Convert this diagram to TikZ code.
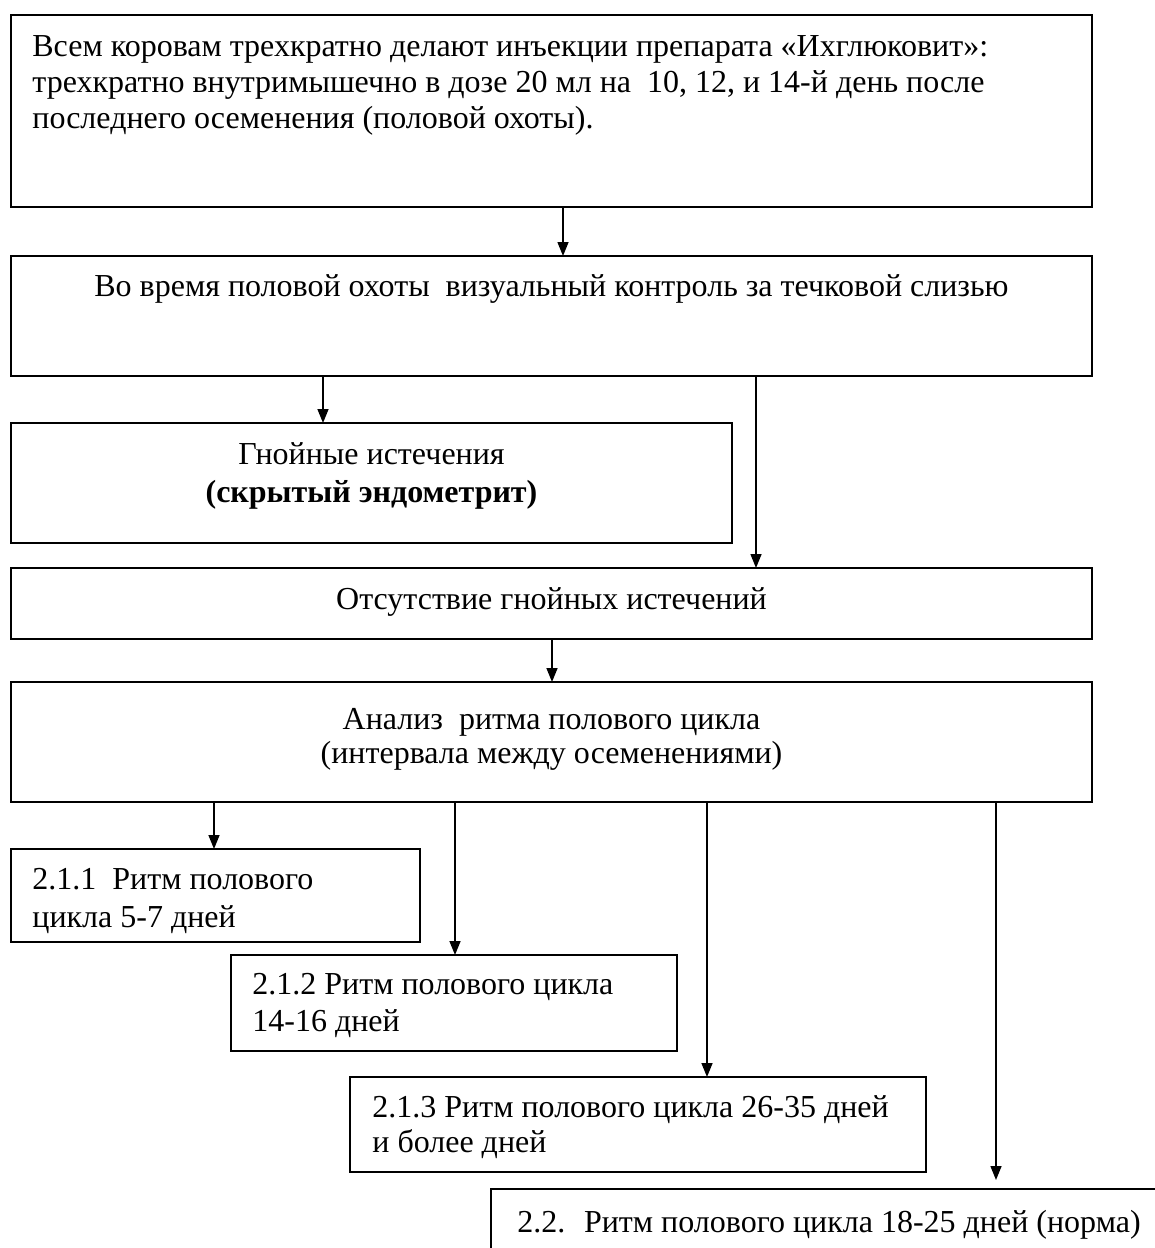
\documentclass[tikz,border=0pt]{standalone}
\usepackage{fontspec}
\setmainfont{Liberation Serif}
\usetikzlibrary{arrows.meta}

\tikzset{
  box/.style={draw, line width=0.85pt, anchor=north west, inner sep=0pt, outer sep=0pt},
  zeile/.style={inner sep=0pt, font=\fontsize{16}{19}\selectfont},
  pfeil/.style={line width=0.75pt, -{Triangle[length=7pt,width=5.5pt]}},
}

\begin{document}
\begin{tikzpicture}[x=0.5pt, y=-0.5pt]
  % Pixel der Vorlage
  \def\px{0.5pt}
  \useasboundingbox (0,0) rectangle (1155,1248);
  \clip (0,0) rectangle (1155,1248);

  % Kaesten: Name/links/oben/rechts/unten
  \foreach \n/\xa/\ya/\xb/\yb in {b1/11/15/1092/207, b2/11/256/1092/376,
      b3/11/423/732/543, b4/11/568/1092/639, b5/11/682/1092/802,
      b6/11/849/420/942, b7/231/955/677/1051, b8/350/1077/926/1172,
      b9/491/1189/1170/1275} {
    \node[box, minimum width={(\xb-\xa)*\px}, minimum height={(\yb-\ya)*\px}] (\n) at (\xa,\ya) {};
  }

  % Texte
  \node[zeile, anchor=base west] (t1a) at (32,56) {Всем коровам трехкратно делают инъекции препарата «Ихглюковит»:};
  \node[zeile, anchor=base west] (t1b) at (32,92) {трехкратно внутримышечно в дозе 20 мл на~ 10, 12, и 14-й день после};
  \node[zeile, anchor=base west] (t1c) at (32,128) {последнего осеменения (половой охоты).};
  \node[zeile, anchor=base] (t2) at (551.5,296) {Во время половой охоты~ визуальный контроль за течковой слизью};
  \node[zeile, anchor=base] (t3a) at (371.5,464) {Гнойные истечения};
  \node[zeile, anchor=base] (t3b) at (371.5,502) {\bfseries (скрытый эндометрит)};
  \node[zeile, anchor=base] (t4) at (551.5,609) {Отсутствие гнойных истечений};
  \node[zeile, anchor=base] (t5a) at (551.5,729) {Анализ~ ритма полового цикла};
  \node[zeile, anchor=base] (t5b) at (551.5,763) {(интервала между осеменениями)};
  \node[zeile, anchor=base west] (t6a) at (32,889) {2.1.1~ Ритм полового};
  \node[zeile, anchor=base west] (t6b) at (32,927) {цикла 5-7 дней};
  \node[zeile, anchor=base west] (t7a) at (252,994) {2.1.2 Ритм полового цикла};
  \node[zeile, anchor=base west] (t7b) at (252,1031) {14-16 дней};
  \node[zeile, anchor=base west] (t8a) at (372,1117) {2.1.3 Ритм полового цикла 26-35 дней};
  \node[zeile, anchor=base west] (t8b) at (372,1152) {и более дней};
  \node[zeile, anchor=base west] (t9) at (517,1232) {2.2.~ Ритм полового цикла 18-25 дней (норма)};

  % Pfeile
  \foreach \n/\x in {a1/563, a2/323, a3/756, a4/552, a5/214, a6/455, a7/707, a8/996} {
    \coordinate (\n) at (\x,0);
  }
  \coordinate (e8) at (996,1180);
  \draw[pfeil] (b1.south -| a1) -- (b2.north -| a1);
  \draw[pfeil] (b2.south -| a2) -- (b3.north -| a2);
  \draw[pfeil] (b2.south -| a3) -- (b4.north -| a3);
  \draw[pfeil] (b4.south -| a4) -- (b5.north -| a4);
  \draw[pfeil] (b5.south -| a5) -- (b6.north -| a5);
  \draw[pfeil] (b5.south -| a6) -- (b7.north -| a6);
  \draw[pfeil] (b5.south -| a7) -- (b8.north -| a7);
  \draw[pfeil] (b5.south -| a8) -- (e8);
\end{tikzpicture}
\end{document}
